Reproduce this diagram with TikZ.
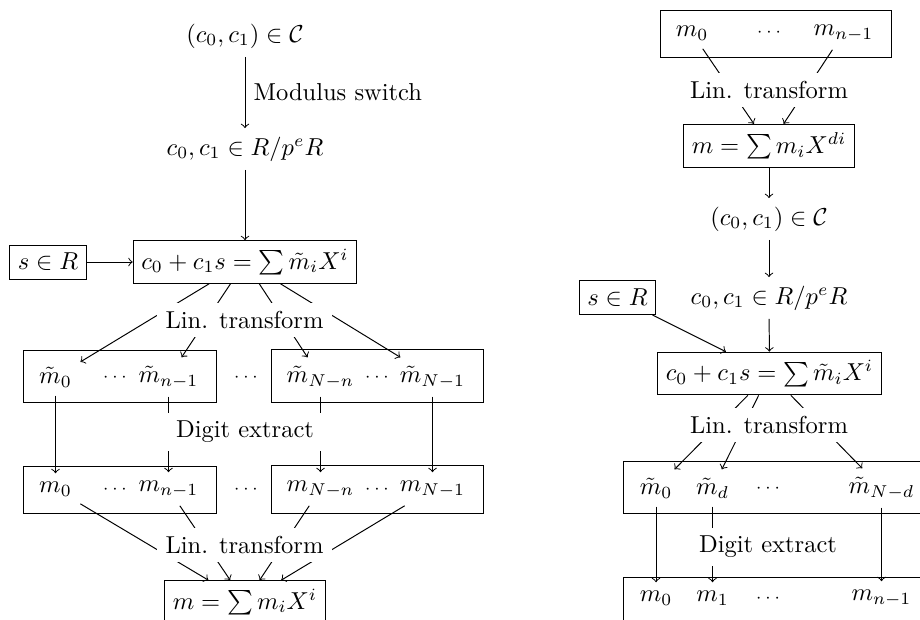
\documentclass[tikz,border=0pt]{standalone}
\usetikzlibrary{fit}
\begin{document}
\begin{tikzpicture}[x=0.40815pt,y=-0.40815pt,
  box/.style={draw},
  lbl/.style={fill=white},
  frame/.style={draw, inner sep=0pt},
  dots/.style={font=\scriptsize},
  arr/.style={->}]
\useasboundingbox (0,0) rectangle (920,619);
\clip (0,0) rectangle (920,619);

% ---------------- left diagram ----------------
\node (c) at (245,36) {$(c_0,c_1)\in\mathcal{C}$};
\node (r) at (245,149) {$c_0,c_1\in R/p^eR$};
\node[box] (sum) at (245,262) {$c_0+c_1s=\sum\tilde m_iX^i$};
\node[box] (s) at (48,262) {$s\in R$};

\node[frame, fit={(23,350) (216,402)}] (fa) {};
\node[frame, fit={(271,349) (483,402)}] (fb) {};
\node (mt0) at (55.5,377) {$\tilde m_0$};
\node[dots] (da) at (115,377) {$\cdots$};
\node (mtn) at (168.5,377) {$\tilde m_{n-1}$};
\node[dots] (dm1) at (246,377) {$\cdots$};
\node (mtNn) at (320.5,377) {$\tilde m_{N-n}$};
\node[dots] (db) at (377,377) {$\cdots$};
\node (mtN) at (432.5,377) {$\tilde m_{N-1}$};

\node[frame, fit={(23,466) (216,513)}] (fc) {};
\node[frame, fit={(271,465) (483,513)}] (fd) {};
\node (m0) at (55.5,489) {$m_0$};
\node[dots] (dc) at (115,489) {$\cdots$};
\node (mn) at (168.5,489) {$m_{n-1}$};
\node[dots] (dm2) at (246,489) {$\cdots$};
\node (mNn) at (320.5,489) {$m_{N-n}$};
\node[dots] (dd) at (377,489) {$\cdots$};
\node (mN) at (432.5,489) {$m_{N-1}$};

\node[box] (msum) at (245,602) {$m=\sum m_iX^i$};

\draw[arr] (c) -- node[right] {Modulus switch} (r);
\draw[arr] (r) -- (sum);
\draw[arr] (s) -- (sum);
\foreach \t in {mt0,mtn,mtNn,mtN} \draw[arr] (sum) -- (\t);
\draw[arr] (mt0) -- (m0);
\draw[arr] (mtn) -- (mn);
\draw[arr] (mtNn) -- (mNn);
\draw[arr] (mtN) -- (mN);
\foreach \t in {m0,mn,mNn,mN} \draw[arr] (\t) -- (msum);

\node[lbl] (lt1) at (244.5,320) {Lin. transform};
\node[lbl, inner xsep=5pt] (de1) at (245,432) {Digit extract};
\node[lbl] (lt2) at (244.5,545) {Lin. transform};

% ---------------- right diagram ----------------
\node[frame, fit={(660,10) (891,57)}] (tb) {};
\node (rm0t) at (692,33) {$m_0$};
\node[dots] (rdt) at (769,33) {$\cdots$};
\node (rmnt) at (843.5,33) {$m_{n-1}$};
\node[box] (rmsum) at (769,146) {$m=\sum m_iX^{di}$};
\node (rc) at (769,219) {$(c_0,c_1)\in\mathcal{C}$};
\node (rr) at (769,298) {$c_0,c_1\in R/p^eR$};
\node[box] (rs) at (617.5,297.5) {$s\in R$};
\node[box] (rsum) at (769.5,373.5) {$c_0+c_1s=\sum\tilde m_iX^i$};

\node[frame, fit={(623,461) (960,513)}] (fe) {};
\node (rmt0) at (656,488) {$\tilde m_0$};
\node (rmtd) at (712.5,488) {$\tilde m_d$};
\node[dots] (rde) at (768,488) {$\cdots$};
\node (rmtN) at (881.5,488) {$\tilde m_{N-d}$};

\node[frame, fit={(623,577) (960,660)}] (ff) {};
\node (rm0) at (656,598) {$m_0$};
\node (rm1) at (712.5,598) {$m_1$};
\node[dots] (rdf) at (768,598) {$\cdots$};
\node (rmn) at (881.5,598) {$m_{n-1}$};

\draw[arr] (rm0t) -- (rmsum);
\draw[arr] (rmnt) -- (rmsum);
\draw[arr] (rmsum) -- (rc);
\draw[arr] (rc) -- (rr);
\draw[arr] (rr) -- (rsum);
\draw[arr] (rs) -- (rsum);
\foreach \t in {rmt0,rmtd,rmtN} \draw[arr] (rsum) -- (\t);
\draw[arr] (rmt0) -- (rm0);
\draw[arr] (rmtd) -- (rm1);
\draw[arr] (rmtN) -- (rmn);

\node[lbl] (lt3) at (769,90) {Lin. transform};
\node[lbl] (lt4) at (769,425) {Lin. transform};
\node[lbl] (de2) at (768,547) {Digit extract};
\end{tikzpicture}
\end{document}
